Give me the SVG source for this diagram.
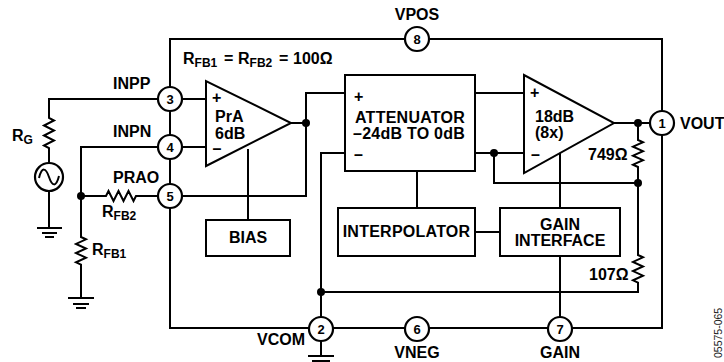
<svg xmlns="http://www.w3.org/2000/svg" width="724" height="362" viewBox="0 0 724 362">
<style>
.w{fill:none;stroke:#000;stroke-width:2;stroke-linejoin:miter}
.b{fill:#fff;stroke:#000;stroke-width:2}
.p{fill:#fff;stroke:#000;stroke-width:2.200}
.d{fill:#000}
text{font-family:"Liberation Sans",Arial,sans-serif;font-weight:700;font-size:16px;fill:#000}
.m{text-anchor:middle}
.n{font-size:13px;text-anchor:middle}
.s{font-size:12px}
.l{letter-spacing:.25px}
.v{font-family:"Liberation Sans",Arial,sans-serif;font-weight:400;font-size:10.500px;fill:#222}
</style>
<rect width="724" height="362" fill="#fff"/>
<g id="connectors" class="w">
<path d="M170 39H662V328H170Z"/>
<path d="M158 99H49V118l5 2.500-10 5 10 5-10 5 10 5-10 5 5 2.500V163M49 191V228"/>
<path d="M37 228H62M42 233H57M45 237H54"/>
<path d="M158 147H81V237l5 2.300-10 4.600 10 4.600-10 4.600 10 4.600-10 4.600 5 2.300V298"/>
<path d="M68 298H94M73 304H89M76 308H86"/>
<path d="M81 196H106l2.500-5 5 10 5-10 5 10 5-10 5 10 2.500-5H158"/>
<path d="M182 99H206M182 147H206M182 196H306V93H345M291 123H306"/>
<path d="M248 149V220"/>
<path d="M475 93H524M475 153H524M494 153V183H638"/>
<path d="M345 153H321V317M321 341V356M308 356H334M312 361H330"/>
<path d="M614 123H650M638 123V140l5 2.200-10 4.500 10 4.500-10 4.500 10 4.500-10 4.500 5 2.300V255l5 2.300-10 4.600 10 4.600-10 4.600 10 4.600-10 4.600 5 2.300V292H321"/>
<path d="M417 171V208M560 152V208M475 232H500M560 256V317"/>
</g>
<g id="prA"><path class="b" d="M206 81V166L291 123Z"/><text x="212" y="103">+</text><text x="215" y="122">PrA</text><text x="215" y="139">6dB</text><text x="212.500" y="154">–</text></g>
<g id="bias"><rect class="b" x="206" y="220" width="84" height="36"/><text class="m" x="248" y="243">BIAS</text></g>
<g id="attenuator"><rect class="b" x="345" y="75" width="130" height="96"/><text x="354" y="102">+</text><text class="l" x="355" y="123">ATTENUATOR</text><text class="l" x="353" y="139">–24dB TO 0dB</text><text x="354" y="160">–</text></g>
<g id="amp"><path class="b" d="M524 75V173L614 123Z"/><text x="530" y="98">+</text><text x="535" y="122">18dB</text><text x="535" y="138">(8x)</text><text x="531" y="160">–</text></g>
<g id="interpolator"><rect class="b" x="338" y="208" width="137" height="48"/><text class="m l" x="406.500" y="237">INTERPOLATOR</text></g>
<g id="gain-interface"><rect class="b" x="500" y="208" width="120" height="48"/><text class="m" x="560" y="230">GAIN</text><text class="m" x="560" y="246">INTERFACE</text></g>
<g id="dots"><circle class="d" cx="306" cy="123" r="4"/><circle class="d" cx="494" cy="153" r="4"/><circle class="d" cx="638" cy="123" r="4"/><circle class="d" cx="638" cy="183" r="4"/><circle class="d" cx="321" cy="292" r="4"/><circle class="d" cx="81" cy="196" r="4"/></g>
<g id="source"><circle class="p" cx="49" cy="177" r="14"/><path class="w" d="M39 178C42 166 46 168 49 177S56 188 59 176"/></g>
<g id="pin3"><circle class="p" cx="170" cy="99" r="12"/><text class="n" x="170" y="103.500">3</text></g>
<g id="pin4"><circle class="p" cx="170" cy="147" r="12"/><text class="n" x="170" y="151.500">4</text></g>
<g id="pin5"><circle class="p" cx="170" cy="196" r="12"/><text class="n" x="170" y="200.500">5</text></g>
<g id="pin8"><circle class="p" cx="417" cy="39" r="12"/><text class="n" x="417" y="43.500">8</text></g>
<g id="pin1"><circle class="p" cx="662" cy="123" r="12"/><text class="n" x="662" y="127.500">1</text></g>
<g id="pin2"><circle class="p" cx="321" cy="329" r="12"/><text class="n" x="321" y="333.500">2</text></g>
<g id="pin6"><circle class="p" cx="417" cy="329" r="12"/><text class="n" x="417" y="333.500">6</text></g>
<g id="pin7"><circle class="p" cx="560" cy="329" r="12"/><text class="n" x="560" y="333.500">7</text></g>
<g id="labels">
<text class="m" x="417" y="20">VPOS</text>
<text x="680" y="129">VOUT</text>
<text x="113" y="89">INPP</text>
<text x="113" y="137">INPN</text>
<text x="113" y="183">PRAO</text>
<text x="12" y="141">R<tspan class="s" dy="3">G</tspan></text>
<text x="102" y="217">R<tspan class="s" dy="3">FB2</tspan></text>
<text x="92" y="255">R<tspan class="s" dy="3">FB1</tspan></text>
<text x="183" y="64">R<tspan class="s" dy="3">FB1</tspan><tspan x="224" dy="-3">=</tspan><tspan x="238">R</tspan><tspan class="s" dy="3">FB2</tspan><tspan x="279" dy="-3">=</tspan><tspan x="293">100Ω</tspan></text>
<text x="588" y="160">749Ω</text>
<text x="589" y="280">107Ω</text>
<text x="257" y="345">VCOM</text>
<text class="m" x="417" y="358">VNEG</text>
<text class="m" x="560" y="358">GAIN</text>
<text class="v" transform="translate(722 358) rotate(-90)">05575-065</text>
</g>
</svg>
